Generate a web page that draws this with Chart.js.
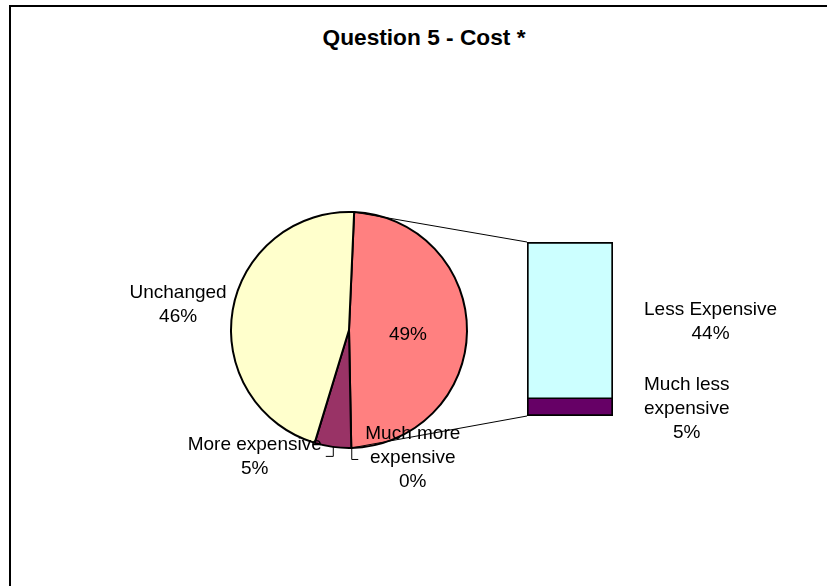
<!DOCTYPE html>
<html>
<head>
<meta charset="utf-8">
<title>Question 5 - Cost</title>
<script src="https://cdn.jsdelivr.net/npm/chart.js@4.4.0/dist/chart.umd.min.js"></script>
<style>
  html, body { margin: 0; padding: 0; background: #fff; }
  #wrap { position: relative; width: 827px; height: 586px; overflow: hidden; }
  #frame { position: absolute; left: 9px; top: 5px; width: 900px; height: 700px; border: 2px solid #000; box-sizing: border-box; }
  #title { position: absolute; left: 10px; width: 828px; top: 24px; line-height: 26px; text-align: center;
           font: bold 22.7px "Liberation Sans", Arial, sans-serif; color: #000; }
  canvas { position: absolute; left: 0; top: 0; }
</style>
</head>
<body>
<div id="wrap">
  <div id="frame"></div>
  <div id="title">Question 5 - Cost *</div>
  <canvas id="pie-chart" width="827" height="586"></canvas>
  <canvas id="bar-chart" width="827" height="586"></canvas>
</div>
<script>
// pie part (first slice is the group split out into the bar)
const pieLabels = [['Other'], ['Much more', 'expensive'], ['More expensive'], ['Unchanged']];
const pieValues = [49, 0, 5, 46];
const pieColors = ['#FF8080', '#9999FF', '#993366', '#FFFFCC'];

// bar part, bottom to top
const barLabels = [['Much less', 'expensive'], ['Less Expensive']];
const barValues = [5, 44];
const barColors = ['#660066', '#CCFFFF'];

const FONT = '"Liberation Sans", Arial, sans-serif';
const LINE_H = 24;
Chart.defaults.font.family = FONT;

function pct(v) { return v + '%'; }

// draws lines of text as a block, each line centred in the block
function drawBlock(ctx, lines, ax, cy, align) {
  const widest = Math.max(...lines.map(l => ctx.measureText(l).width));
  let cx = ax;
  if (align === 'left') cx = ax + widest / 2;
  if (align === 'right') cx = ax - widest / 2;
  const y0 = cy - (lines.length - 1) * LINE_H / 2;
  ctx.textAlign = 'center';
  ctx.textBaseline = 'middle';
  lines.forEach((l, i) => ctx.fillText(l, cx, y0 + i * LINE_H));
}

const pieLabelPlugin = {
  id: 'pieLabels',
  afterDatasetsDraw(chart) {
    const ctx = chart.ctx;
    const arcs = chart.getDatasetMeta(0).data;
    ctx.save();
    ctx.font = '19px ' + FONT;
    ctx.fillStyle = '#000';
    ctx.strokeStyle = '#000';
    ctx.lineWidth = 1;
    arcs.forEach((arc, i) => {
      const p = arc.getProps(['x', 'y', 'startAngle', 'endAngle', 'outerRadius'], true);
      const mid = (p.startAngle + p.endAngle) / 2;
      const r = p.outerRadius;
      if (i === 0) {
        drawBlock(ctx, [pct(pieValues[i])], p.x + Math.cos(mid) * r * 0.5, p.y + Math.sin(mid) * r * 0.5 + 4, 'center');
        return;
      }
      const ex = p.x + Math.cos(mid) * r;
      const ey = p.y + Math.sin(mid) * r;
      const lines = pieLabels[i].concat(pct(pieValues[i]));
      if (Math.sin(mid) > 0.9) {
        // small labels at the bottom get an elbow leader line
        const dir = Math.cos(mid) < 0 ? -1 : 1;
        const drop = dir < 0 ? 9 : 11;
        ctx.beginPath();
        ctx.moveTo(ex + 0.5, ey);
        ctx.lineTo(ex + 0.5, ey + drop + 0.5);
        ctx.lineTo(ex + dir * 7, ey + drop + 0.5);
        ctx.stroke();
        if (dir < 0) drawBlock(ctx, lines, ex - 11, ey + 10, 'right');
        else drawBlock(ctx, lines, ex + 14, ey + 10, 'left');
      } else if (Math.cos(mid) < 0) {
        drawBlock(ctx, lines, ex - 6, ey - 5, 'right');
      } else {
        drawBlock(ctx, lines, ex + 6, ey - 5, 'left');
      }
    });
    ctx.restore();
  }
};

const pieChart = new Chart(document.querySelector('#pie-chart'), {
  type: 'pie',
  data: {
    labels: pieLabels,
    datasets: [{
      data: pieValues,
      backgroundColor: pieColors,
      borderColor: '#000',
      borderWidth: 2
    }]
  },
  options: {
    responsive: false,
    animation: false,
    rotation: 2.5,
    radius: 118,
    layout: { padding: { left: 231, right: 360, top: 212, bottom: 138 } },
    plugins: { legend: { display: false }, tooltip: { enabled: false } }
  },
  plugins: [pieLabelPlugin]
});

const barLabelPlugin = {
  id: 'barLabels',
  afterDatasetsDraw(chart) {
    const ctx = chart.ctx;
    const other = pieChart.getDatasetMeta(0).data[0].getProps(['x', 'y', 'startAngle', 'endAngle', 'outerRadius'], true);
    const segs = barValues.map((v, i) => chart.getDatasetMeta(i).data[0].getProps(['x', 'y', 'base', 'width'], true));
    const topSeg = segs[segs.length - 1];
    const left = topSeg.x - topSeg.width / 2;
    const right = topSeg.x + topSeg.width / 2;
    ctx.save();
    // connector lines from the split slice to the bar
    ctx.strokeStyle = '#000';
    ctx.lineWidth = 1;
    ctx.beginPath();
    ctx.moveTo(other.x + Math.cos(other.startAngle) * other.outerRadius, other.y + Math.sin(other.startAngle) * other.outerRadius);
    ctx.lineTo(left, topSeg.y);
    ctx.moveTo(other.x + Math.cos(other.endAngle) * other.outerRadius, other.y + Math.sin(other.endAngle) * other.outerRadius);
    ctx.lineTo(left, segs[0].base);
    ctx.stroke();
    ctx.font = '19px ' + FONT;
    ctx.fillStyle = '#000';
    segs.forEach((s, i) => {
      drawBlock(ctx, barLabels[i].concat(pct(barValues[i])), right + 31, (s.y + s.base) / 2 + 2, 'left');
    });
    ctx.restore();
  }
};

new Chart(document.querySelector('#bar-chart'), {
  type: 'bar',
  data: {
    labels: ['Other'],
    datasets: barValues.map((v, i) => ({
      label: barLabels[i].join(' '),
      data: [v],
      backgroundColor: barColors[i],
      borderColor: '#000',
      borderSkipped: false,
      borderWidth: i === 0 ? { left: 2, right: 2, bottom: 2, top: 1 } : { left: 2, right: 2, bottom: 1, top: 2 },
      barPercentage: 1,
      categoryPercentage: 1
    }))
  },
  options: {
    responsive: false,
    animation: false,
    layout: { padding: { left: 527, right: 214, top: 242, bottom: 170 } },
    scales: {
      x: { display: false, stacked: true },
      y: { display: false, stacked: true, min: 0, max: barValues.reduce((a, b) => a + b, 0) }
    },
    plugins: { legend: { display: false }, tooltip: { enabled: false } }
  },
  plugins: [barLabelPlugin]
});
</script>
</body>
</html>
